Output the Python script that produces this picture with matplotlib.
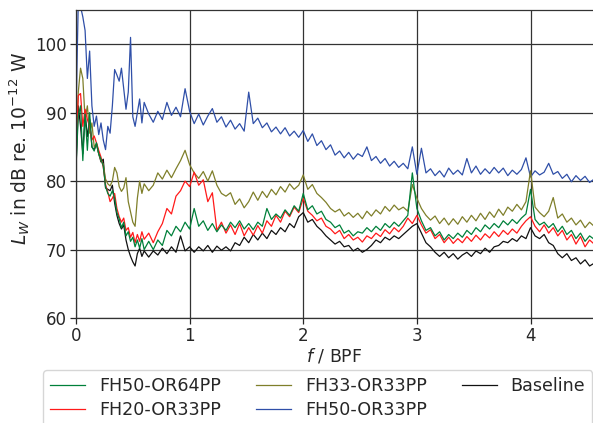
import numpy as np
import matplotlib
matplotlib.use("Agg")
import matplotlib.pyplot as plt

# frequency grid (f / BPF): fine near zero, coarser afterwards
f_low = np.round(np.arange(0.0, 0.6001, 0.02), 3)
f_high = np.round(np.arange(0.64, 4.5601, 0.04), 3)
freq = np.concatenate([f_low, f_high])

# ---- FH50-OR64PP (green)
fh50_or64_low = [82.0, 89.5, 91.0, 83.0, 89.8, 84.5, 90.0, 85.0, 84.4, 85.6,
                 84.0, 83.2, 82.2, 79.2, 78.2, 77.8, 78.6, 77.5, 75.4, 74.5,
                 73.2, 74.0, 72.0, 72.6, 71.2, 71.8, 70.4, 71.4, 70.2, 71.6, 70.0]
fh50_or64_high = [71.2, 70.0, 71.4, 70.6, 72.8, 72.0, 73.4, 72.6, 74.0, 73.0,
                  76.0, 73.4, 74.2, 72.8, 73.8, 72.6, 73.6, 72.8, 74.0, 73.2,
                  74.2, 73.0, 73.8, 72.9, 74.0, 73.4, 76.0, 74.4, 75.2, 74.6,
                  75.8, 75.0, 76.4, 75.6, 78.2, 75.8, 76.4, 75.2, 75.6, 74.4,
                  74.0, 73.2, 73.6, 72.4, 72.8, 72.0, 72.6, 72.4, 73.2, 72.6,
                  73.4, 72.8, 73.8, 73.2, 74.0, 73.4, 74.2, 75.0, 81.2, 76.0,
                  74.2, 72.8, 73.2, 72.0, 72.6, 71.4, 72.2, 71.6, 72.4, 71.8,
                  72.8, 72.2, 73.2, 72.6, 73.6, 73.0, 73.8, 73.2, 74.2, 73.6,
                  74.4, 73.8, 74.6, 75.2, 78.8, 74.4, 73.6, 74.0, 73.2, 73.8,
                  72.6, 73.4, 72.2, 72.8, 71.6, 72.4, 71.2, 72.0, 71.5]

# ---- FH20-OR33PP (red)
fh20_or33_low = [84.5, 92.5, 92.8, 88.0, 90.5, 89.0, 88.0, 86.0, 86.6, 85.6,
                 84.5, 83.5, 82.0, 79.5, 78.4, 77.0, 77.5, 78.2, 76.0, 74.8,
                 74.0, 74.6, 72.8, 73.2, 71.8, 72.5, 71.0, 72.2, 71.2, 72.6, 71.5]
fh20_or33_high = [72.4, 71.0, 72.6, 73.8, 76.0, 75.2, 77.8, 78.6, 80.0, 79.2,
                  81.3, 79.4, 80.2, 77.0, 78.3, 72.8, 74.0, 72.4, 73.6, 72.2,
                  73.8, 72.0, 73.2, 72.1, 73.5, 72.4, 74.2, 73.4, 75.0, 74.0,
                  75.6, 74.8, 76.2, 75.4, 77.5, 75.6, 75.0, 74.2, 74.6, 73.4,
                  73.0, 72.3, 72.8, 71.6, 72.2, 71.4, 71.8, 71.1, 72.0, 71.6,
                  72.4, 71.9, 72.9, 72.3, 73.2, 72.6, 73.4, 74.6, 73.8, 75.0,
                  73.6, 72.4, 72.9, 71.6, 72.2, 71.0, 71.8, 70.9, 71.6, 71.0,
                  71.9, 71.2, 72.1, 71.4, 72.3, 71.7, 72.6, 71.9, 72.8, 72.2,
                  73.0, 72.4, 73.4, 74.2, 74.8, 73.4, 72.6, 73.6, 72.4, 73.2,
                  72.0, 72.8, 71.4, 72.2, 70.8, 71.9, 70.4, 71.4, 70.8]

# ---- FH33-OR33PP (olive)
fh33_or33_low = [83.5, 93.0, 96.5, 95.0, 89.0, 91.0, 87.0, 88.5, 85.0, 85.5,
                 84.0, 83.0, 82.5, 80.3, 79.6, 79.3, 80.0, 82.0, 81.2, 79.2,
                 78.5, 79.0, 80.5, 77.0, 75.5, 74.0, 73.4, 77.5, 80.0, 78.2, 79.6]
fh33_or33_high = [78.6, 79.4, 81.2, 80.3, 81.6, 80.5, 81.8, 83.0, 84.5, 82.4,
                  81.2, 80.4, 81.4, 80.0, 81.5, 79.4, 78.2, 77.8, 78.3, 76.6,
                  77.4, 76.1, 77.0, 78.4, 77.2, 78.5, 77.6, 78.8, 78.0, 79.2,
                  78.4, 79.6, 78.8, 79.4, 80.9, 78.8, 79.5, 78.2, 77.6, 76.9,
                  76.0, 75.5, 75.9, 74.9, 75.4, 74.7, 75.3, 74.5, 75.6, 74.9,
                  75.8, 75.2, 76.3, 75.6, 76.5, 75.8, 76.2, 75.6, 79.5, 77.5,
                  76.0, 75.0, 74.3, 74.9, 73.8, 74.6, 73.6, 74.5, 73.7, 74.8,
                  74.0, 75.0, 74.2, 75.3, 74.4, 75.5, 74.7, 75.9, 75.0, 76.2,
                  75.6, 76.6, 75.8, 77.0, 81.5, 76.2, 75.4, 74.8, 75.6, 77.6,
                  74.6, 75.2, 74.0, 74.6, 73.6, 74.3, 73.2, 74.0, 73.4]

# ---- FH50-OR33PP (blue)
fh50_or33_low = [90.0, 106.0, 105.5, 104.0, 102.0, 95.0, 99.0, 91.0, 88.0, 89.5,
                 86.8, 88.5, 86.0, 84.6, 88.0, 87.0, 91.0, 96.3, 95.5, 94.6,
                 96.5, 93.5, 90.5, 93.0, 101.0, 89.4, 88.0, 90.0, 92.0, 88.5, 91.5]
fh50_or33_high = [89.8, 88.6, 90.2, 89.0, 91.5, 89.6, 90.8, 89.4, 93.5, 90.2,
                  88.4, 89.8, 88.2, 89.5, 90.6, 88.6, 89.4, 87.9, 88.9, 87.6,
                  88.4, 87.3, 93.0, 88.4, 89.2, 87.8, 88.5, 87.2, 87.9, 86.9,
                  87.8, 86.6, 87.3, 86.4, 87.4, 85.8, 86.9, 85.2, 85.9, 84.6,
                  85.3, 83.8, 84.4, 83.4, 84.2, 83.2, 84.0, 83.6, 85.0, 83.0,
                  83.6, 82.6, 83.3, 82.2, 82.9, 82.0, 82.6, 81.8, 85.0, 81.0,
                  84.8, 81.2, 81.8, 80.8, 81.5, 80.6, 81.9, 81.0, 81.6, 80.9,
                  83.3, 81.2, 82.2, 81.0, 81.8, 81.1, 82.0, 81.2, 81.9, 80.8,
                  81.6, 81.0, 81.7, 83.4, 80.6, 81.5, 80.9, 81.3, 82.6, 81.0,
                  81.4, 80.4, 81.0, 79.9, 80.8, 80.1, 80.7, 79.8, 80.3]

# ---- Baseline (black)
baseline_low = [82.0, 91.0, 88.0, 84.0, 90.0, 86.5, 89.0, 85.0, 84.6, 85.4,
                84.0, 82.8, 83.2, 79.0, 78.8, 78.6, 79.4, 76.8, 75.0, 73.8,
                73.0, 73.6, 71.4, 70.0, 69.0, 68.2, 67.6, 69.4, 70.2, 69.0, 69.8]
baseline_high = [68.9, 69.8, 69.2, 70.2, 69.4, 70.4, 69.6, 72.0, 69.8, 70.4,
                 69.6, 70.4, 69.8, 70.6, 69.6, 70.5, 69.9, 70.4, 69.8, 71.0,
                 70.6, 71.8, 71.0, 72.2, 71.4, 72.4, 71.6, 72.8, 72.2, 73.2,
                 72.6, 73.8, 73.2, 74.8, 75.4, 74.0, 74.4, 73.4, 72.8, 72.0,
                 71.4, 70.8, 71.2, 70.4, 70.6, 69.8, 70.2, 69.6, 70.0, 70.6,
                 71.4, 71.0, 71.8, 71.4, 72.0, 71.6, 72.2, 72.8, 73.4, 73.8,
                 72.4, 71.0, 70.4, 69.6, 69.0, 69.6, 68.8, 69.4, 68.6, 69.2,
                 69.6, 69.0, 69.8, 69.4, 70.2, 69.6, 70.4, 70.6, 71.2, 71.0,
                 71.6, 71.2, 72.0, 71.6, 73.2, 72.0, 71.6, 72.2, 71.0, 70.6,
                 69.4, 68.8, 69.4, 68.4, 68.8, 67.9, 68.5, 67.6, 68.0]

series = [
    ("FH50-OR64PP", fh50_or64_low + fh50_or64_high, "#00803a"),
    ("FH20-OR33PP", fh20_or33_low + fh20_or33_high, "#ff1a1a"),
    ("FH33-OR33PP", fh33_or33_low + fh33_or33_high, "#7f7f2a"),
    ("FH50-OR33PP", fh50_or33_low + fh50_or33_high, "#2f4fa8"),
    ("Baseline", baseline_low + baseline_high, "#111111"),
]

x_ticks = [0, 1, 2, 3, 4]
y_ticks = [60, 70, 80, 90, 100]

W, H = 593, 423
fig = plt.figure(figsize=(W / 100, H / 100), dpi=100)
ax = fig.add_axes([76 / W, 1 - 318 / H, (W - 76) / W, (318 - 10) / H])

draw_order = [4, 3, 2, 1, 0]
lines = {}
for i in draw_order:
    name, vals, col = series[i]
    ln, = ax.plot(freq, vals, color=col, lw=0.9, label=name)
    lines[i] = ln

ax.set_xlim(0, 4.55)
ax.set_ylim(60, 105)
ax.set_xticks(x_ticks)
ax.set_yticks(y_ticks)
ax.grid(True, color="#333333", lw=0.9)
ax.set_axisbelow(True)
for s in ["top", "left", "bottom"]:
    ax.spines[s].set_color("#333333")
    ax.spines[s].set_linewidth(0.9)
ax.spines["right"].set_visible(False)
ax.tick_params(labelsize=12, colors="#262626", length=4, width=0.9, pad=2.5)
ax.set_xlabel("$f$ / BPF", fontsize=12.5, color="#262626", labelpad=1)
ax.set_ylabel("$L_W$ in dB re. $10^{-12}$ W", fontsize=13.5, color="#262626")
ax.yaxis.set_label_coords((32 - 76) / (W - 76), 0.55)

handles = [lines[i] for i in range(5)]
leg = fig.legend(handles, [s[0] for s in series], loc="upper left",
                 bbox_to_anchor=(43 / W, 1 - 370 / H), ncol=3, fontsize=12.6,
                 frameon=True, fancybox=True, edgecolor="#cccccc",
                 columnspacing=2.0, handlelength=2.0, handletextpad=0.8,
                 borderpad=0.4, labelspacing=0.35, borderaxespad=0)
for t in leg.get_texts():
    t.set_color("#262626")

fig.savefig("out.png", dpi=100)
